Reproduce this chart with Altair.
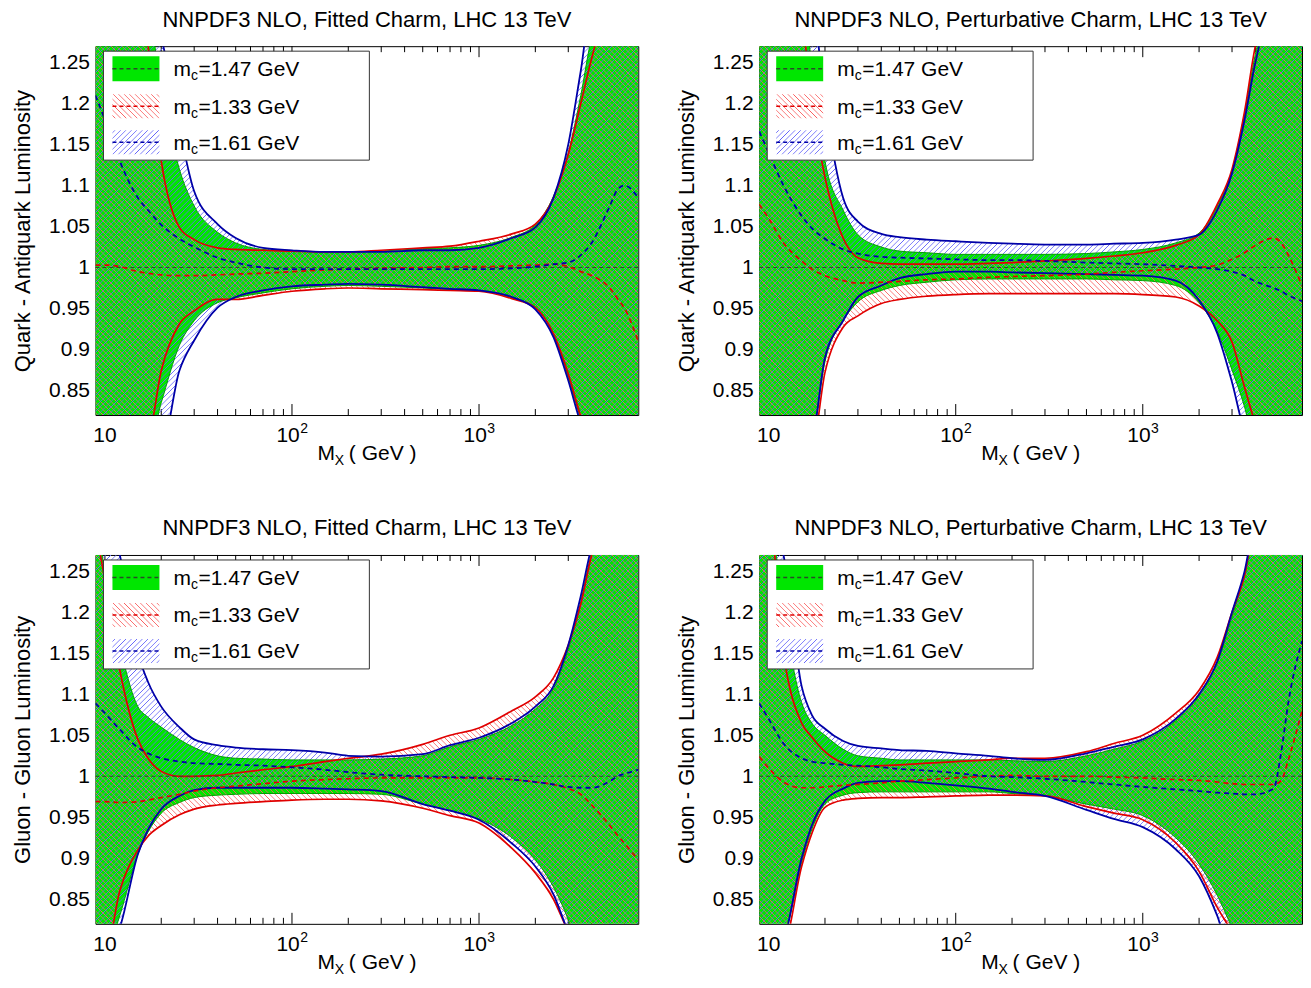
import math
import altair as alt
import pandas as pd

FONT = "Liberation Sans"

# ---------------- data ----------------
MX = [8.9, 10, 12, 15, 17, 20, 25, 30, 40, 50, 70, 100, 150, 200, 300, 500,
      700, 1000, 1500, 2000, 2500, 3000, 3500, 4000, 5000, 5500, 6000, 7100]

# Quark-antiquark, fitted charm
QQF_G_HI = [1.32, 1.32, 1.32, 1.32, 1.31, 1.22, 1.12, 1.075, 1.043, 1.03, 1.022, 1.02, 1.019, 1.019, 1.02, 1.023, 1.024, 1.027, 1.037, 1.052, 1.087, 1.14, 1.21, 1.28, 1.32, 1.32, 1.32, 1.32]
QQF_G_LO = [0.78, 0.78, 0.78, 0.78, 0.78, 0.835, 0.905, 0.935, 0.957, 0.963, 0.969, 0.974, 0.977, 0.978, 0.977, 0.975, 0.973, 0.972, 0.963, 0.951, 0.918, 0.866, 0.815, 0.78, 0.78, 0.78, 0.78, 0.78]
QQF_R_HI = [1.32, 1.32, 1.32, 1.32, 1.27, 1.13, 1.049, 1.034, 1.024, 1.022, 1.021, 1.02, 1.019, 1.019, 1.021, 1.024, 1.026, 1.032, 1.041, 1.053, 1.085, 1.138, 1.2, 1.255, 1.32, 1.32, 1.32, 1.32]
QQF_R_LO = [0.78, 0.78, 0.78, 0.78, 0.79, 0.874, 0.931, 0.947, 0.961, 0.961, 0.966, 0.971, 0.974, 0.975, 0.974, 0.973, 0.972, 0.971, 0.962, 0.951, 0.919, 0.87, 0.818, 0.78, 0.78, 0.78, 0.78, 0.78]
QQF_B_HI = [1.32, 1.32, 1.32, 1.32, 1.32, 1.28, 1.17, 1.093, 1.053, 1.036, 1.024, 1.021, 1.019, 1.019, 1.019, 1.021, 1.021, 1.024, 1.036, 1.049, 1.085, 1.15, 1.24, 1.32, 1.32, 1.32, 1.32, 1.32]
QQF_B_LO = [0.78, 0.78, 0.78, 0.78, 0.78, 0.78, 0.874, 0.911, 0.951, 0.964, 0.972, 0.977, 0.979, 0.98, 0.979, 0.976, 0.974, 0.972, 0.964, 0.949, 0.915, 0.862, 0.81, 0.78, 0.78, 0.78, 0.78, 0.78]
QQF_R_C = [1.003, 1.003, 1.001, 0.995, 0.993, 0.991, 0.99, 0.99, 0.991, 0.992, 0.993, 0.995, 0.997, 0.998, 0.999, 1.0, 1.001, 1.001, 1.002, 1.003, 1.004, 1.001, 0.995, 0.99, 0.975, 0.962, 0.95, 0.91]
QQF_B_C = [1.21, 1.18, 1.13, 1.085, 1.07, 1.052, 1.035, 1.025, 1.012, 1.006, 1.0, 0.998, 0.998, 0.998, 0.998, 0.998, 0.998, 0.998, 0.999, 1.001, 1.004, 1.006, 1.015, 1.03, 1.075, 1.095, 1.1, 1.085]

# Quark-antiquark, perturbative charm
QQP_G_HI = [1.32, 1.32, 1.32, 1.32, 1.25, 1.13, 1.07, 1.04, 1.025, 1.02, 1.018, 1.016, 1.016, 1.016, 1.016, 1.017, 1.019, 1.022, 1.03, 1.042, 1.075, 1.118, 1.188, 1.26, 1.32, 1.32, 1.32, 1.32]
QQP_G_LO = [0.78, 0.78, 0.78, 0.78, 0.79, 0.885, 0.935, 0.958, 0.972, 0.978, 0.982, 0.985, 0.986, 0.986, 0.986, 0.986, 0.985, 0.984, 0.978, 0.957, 0.922, 0.875, 0.83, 0.78, 0.78, 0.78, 0.78, 0.78]
QQP_R_HI = [1.32, 1.32, 1.32, 1.3, 1.2, 1.11, 1.036, 1.012, 1.005, 1.004, 1.004, 1.004, 1.005, 1.006, 1.008, 1.011, 1.014, 1.018, 1.027, 1.04, 1.077, 1.12, 1.19, 1.27, 1.32, 1.32, 1.32, 1.32]
QQP_R_LO = [0.78, 0.78, 0.78, 0.78, 0.78, 0.872, 0.927, 0.941, 0.956, 0.961, 0.965, 0.967, 0.968, 0.968, 0.968, 0.968, 0.968, 0.967, 0.964, 0.953, 0.935, 0.909, 0.854, 0.81, 0.78, 0.78, 0.78, 0.78]
QQP_B_HI = [1.32, 1.32, 1.32, 1.32, 1.32, 1.2, 1.085, 1.056, 1.041, 1.037, 1.034, 1.032, 1.03, 1.029, 1.028, 1.028, 1.029, 1.03, 1.034, 1.04, 1.07, 1.115, 1.18, 1.25, 1.32, 1.32, 1.32, 1.32]
QQP_B_LO = [0.78, 0.78, 0.78, 0.78, 0.79, 0.89, 0.935, 0.964, 0.978, 0.987, 0.992, 0.995, 0.995, 0.994, 0.993, 0.992, 0.991, 0.99, 0.984, 0.96, 0.92, 0.86, 0.8, 0.78, 0.78, 0.78, 0.78, 0.78]
QQP_R_C = [1.077, 1.06, 1.03, 1.008, 0.998, 0.99, 0.984, 0.981, 0.982, 0.983, 0.985, 0.986, 0.988, 0.989, 0.99, 0.992, 0.994, 0.996, 0.998, 1.0, 1.003, 1.01, 1.018, 1.027, 1.036, 1.03, 1.015, 0.978]
QQP_B_C = [1.166, 1.14, 1.1, 1.063, 1.048, 1.035, 1.022, 1.017, 1.013, 1.012, 1.011, 1.01, 1.009, 1.009, 1.008, 1.006, 1.005, 1.004, 1.002, 1.0, 0.998, 0.995, 0.99, 0.983, 0.975, 0.971, 0.966, 0.959]

# Gluon-gluon, fitted charm
GGF_G_HI = [1.32, 1.25, 1.16, 1.085, 1.072, 1.06, 1.045, 1.035, 1.025, 1.022, 1.021, 1.02, 1.02, 1.02, 1.021, 1.025, 1.036, 1.045, 1.062, 1.082, 1.107, 1.155, 1.213, 1.273, 1.32, 1.32, 1.32, 1.32]
GGF_G_LO = [0.78, 0.78, 0.83, 0.905, 0.932, 0.955, 0.968, 0.974, 0.977, 0.978, 0.979, 0.979, 0.979, 0.979, 0.978, 0.966, 0.958, 0.948, 0.925, 0.898, 0.865, 0.825, 0.78, 0.78, 0.78, 0.78, 0.78, 0.78]
GGF_R_HI = [1.3, 1.24, 1.13, 1.045, 1.022, 1.006, 1.0, 1.0, 1.001, 1.004, 1.008, 1.012, 1.018, 1.022, 1.027, 1.039, 1.05, 1.059, 1.08, 1.097, 1.12, 1.16, 1.21, 1.27, 1.32, 1.32, 1.32, 1.32]
GGF_R_LO = [0.78, 0.78, 0.86, 0.91, 0.927, 0.94, 0.953, 0.96, 0.965, 0.967, 0.969, 0.971, 0.972, 0.972, 0.97, 0.961, 0.952, 0.943, 0.912, 0.882, 0.85, 0.81, 0.78, 0.78, 0.78, 0.78, 0.78, 0.78]
GGF_B_HI = [1.32, 1.32, 1.27, 1.15, 1.115, 1.085, 1.06, 1.045, 1.038, 1.035, 1.033, 1.032, 1.029, 1.025, 1.024, 1.027, 1.038, 1.047, 1.065, 1.085, 1.11, 1.16, 1.22, 1.28, 1.32, 1.32, 1.32, 1.32]
GGF_B_LO = [0.78, 0.78, 0.815, 0.905, 0.935, 0.96, 0.976, 0.983, 0.986, 0.986, 0.986, 0.986, 0.985, 0.984, 0.982, 0.966, 0.958, 0.947, 0.918, 0.89, 0.856, 0.81, 0.78, 0.78, 0.78, 0.78, 0.78, 0.78]
GGF_R_C = [0.969, 0.969, 0.968, 0.969, 0.971, 0.974, 0.978, 0.982, 0.986, 0.988, 0.991, 0.994, 0.996, 0.997, 0.998, 0.998, 0.998, 0.998, 0.996, 0.993, 0.99, 0.985, 0.978, 0.965, 0.94, 0.928, 0.918, 0.898]
GGF_B_C = [1.089, 1.077, 1.057, 1.035, 1.028, 1.022, 1.018, 1.016, 1.015, 1.014, 1.013, 1.011, 1.008, 1.005, 1.002, 1.0, 0.999, 0.998, 0.996, 0.993, 0.99, 0.987, 0.986, 0.986, 0.994, 1.0, 1.003, 1.008]

# Gluon-gluon, perturbative charm
GGP_G_HI = [1.32, 1.32, 1.2, 1.09, 1.065, 1.05, 1.033, 1.025, 1.022, 1.02, 1.02, 1.02, 1.02, 1.019, 1.018, 1.025, 1.033, 1.043, 1.068, 1.098, 1.138, 1.195, 1.245, 1.3, 1.32, 1.32, 1.32, 1.32]
GGP_G_LO = [0.78, 0.78, 0.8, 0.895, 0.935, 0.966, 0.977, 0.98, 0.981, 0.981, 0.981, 0.981, 0.981, 0.979, 0.976, 0.966, 0.96, 0.952, 0.925, 0.893, 0.855, 0.815, 0.78, 0.78, 0.78, 0.78, 0.78, 0.78]
GGP_R_HI = [1.32, 1.32, 1.15, 1.065, 1.048, 1.03, 1.016, 1.012, 1.013, 1.014, 1.016, 1.018, 1.02, 1.022, 1.022, 1.03, 1.04, 1.05, 1.077, 1.105, 1.145, 1.2, 1.245, 1.31, 1.32, 1.32, 1.32, 1.32]
GGP_R_LO = [0.78, 0.78, 0.79, 0.89, 0.93, 0.962, 0.971, 0.973, 0.974, 0.974, 0.975, 0.976, 0.977, 0.977, 0.976, 0.963, 0.955, 0.947, 0.919, 0.884, 0.84, 0.81, 0.78, 0.78, 0.78, 0.78, 0.78, 0.78]
GGP_B_HI = [1.32, 1.32, 1.27, 1.11, 1.075, 1.058, 1.043, 1.037, 1.034, 1.032, 1.031, 1.028, 1.025, 1.022, 1.02, 1.028, 1.036, 1.045, 1.07, 1.1, 1.14, 1.2, 1.25, 1.31, 1.32, 1.32, 1.32, 1.32]
GGP_B_LO = [0.78, 0.78, 0.8, 0.9, 0.94, 0.97, 0.985, 0.992, 0.994, 0.994, 0.992, 0.989, 0.985, 0.981, 0.976, 0.959, 0.948, 0.938, 0.911, 0.878, 0.83, 0.78, 0.78, 0.78, 0.78, 0.78, 0.78, 0.78]
GGP_R_C = [1.024, 1.01, 0.993, 0.986, 0.986, 0.987, 0.989, 0.99, 0.992, 0.994, 0.996, 0.998, 1.0, 1.001, 1.0, 1.0, 0.999, 0.998, 0.996, 0.995, 0.993, 0.991, 0.99, 0.99, 0.99, 0.995, 1.02, 1.08]
GGP_B_C = [1.089, 1.07, 1.04, 1.022, 1.018, 1.016, 1.014, 1.013, 1.011, 1.009, 1.007, 1.004, 1.0, 0.999, 0.997, 0.993, 0.99, 0.987, 0.984, 0.982, 0.98, 0.979, 0.978, 0.978, 0.985, 1.03, 1.09, 1.165]

CENTRAL_RATIO = [1.0]
MASSES = ["1.47", "1.33", "1.61"]
TITLES = ["NNPDF3 NLO, Fitted Charm, LHC 13 TeV", "NNPDF3 NLO, Perturbative Charm, LHC 13 TeV"]
YTITLES = ["Quark - Antiquark Luminosity", "Gluon - Gluon Luminosity"]
Y_TICKS = [0.85, 0.9, 0.95, 1.0, 1.05, 1.1, 1.15, 1.2, 1.25]
X_MAJOR = [10, 100, 1000]
X_LABEL_EXP = ["", "2", "3"]
X_MINOR = [20, 30, 40, 50, 60, 70, 80, 90, 200, 300, 400, 500, 600, 700, 800, 900,
           2000, 3000, 4000, 5000, 6000, 7000]

# ---------------- style ----------------
PW, PH = 543, 369
YMIN, YMAX = 0.82, 1.27
GREEN = "#00e600"
GREEN_EDGE = "#00a000"
RED = "#e00000"
NAVY = "#0000a8"
RED_HATCH = (250, 95, 95)
BLUE_HATCH = (100, 100, 250)

xs = alt.Scale(type="log", domain=[8.9, 7100], nice=False)
ys = alt.Scale(domain=[YMIN, YMAX], nice=False, zero=False)


def y_axis(title):
    return alt.Axis(values=Y_TICKS, format="~g", ticks=False, domain=False, grid=False, title=title,
                    titleFontSize=22, titleFont=FONT, titleFontWeight="normal", titleColor="black",
                    labelFontSize=21, labelFont=FONT, labelColor="black", labelPadding=6, titlePadding=14)


def hatch(W, H, rgb, direction, period=3.8, half=0.6):
    a = (W + H) / (W * W + H * H)
    if direction == "back":
        x1, y1, x2, y2 = 0, 1, a * W, 1 - a * H
    else:
        x1, y1, x2, y2 = 0, 0, a * W, a * H
    D = (W + H) / math.sqrt(2)
    n = max(1, round(D / period))
    h = half / D
    r, g, b = rgb
    clear = f"rgba({r},{g},{b},0)"
    solid = f"rgb({r},{g},{b})"
    stops = [alt.GradientStop(offset=0, color=clear)]
    for i in range(n):
        c = (i + 0.5) / n
        stops += [alt.GradientStop(offset=round(c - h, 6), color=clear),
                  alt.GradientStop(offset=round(c, 6), color=solid),
                  alt.GradientStop(offset=round(c + h, 6), color=clear)]
    stops.append(alt.GradientStop(offset=1, color=clear))
    return alt.LinearGradient(gradient="linear", stops=stops, x1=x1, y1=y1, x2=x2, y2=y2)


ONE = pd.DataFrame({"k": [0]})


def panel(series, title, ytitle):
    g_lo, g_hi, r_lo, r_hi, b_lo, b_hi, r_c, b_c = series
    df = pd.DataFrame({"x": MX, "g_lo": g_lo, "g_hi": g_hi, "r_lo": r_lo, "r_hi": r_hi,
                       "b_lo": b_lo, "b_hi": b_hi, "r_c": r_c, "b_c": b_c})
    ya = y_axis(ytitle)
    X = alt.X("x:Q", scale=xs, axis=None)

    def Y(col):
        return alt.Y(f"{col}:Q", scale=ys, axis=ya)

    def band(lo, hi, **mk):
        return alt.Chart(df).mark_area(clip=True, interpolate="monotone", opacity=1, **mk).encode(
            x=X, y=Y(lo), y2=alt.Y2(f"{hi}:Q"))

    def line(col, color, width, dash=None):
        kw = dict(clip=True, interpolate="monotone", color=color, strokeWidth=width)
        if dash:
            kw["strokeDash"] = dash
        return alt.Chart(df).mark_line(**kw).encode(x=X, y=Y(col))

    def bh(lo, hi):
        return (max(hi) - min(lo)) * PH / (YMAX - YMIN)

    layers = []
    # inward ticks (under the bands)
    for vals, ln in ((X_MAJOR, 11), (X_MINOR, 6)):
        tdf = pd.DataFrame({"v": vals})
        layers.append(alt.Chart(tdf).mark_rule(color="black", strokeWidth=1).encode(
            x=alt.X("v:Q", scale=xs, axis=None), y=alt.value(0), y2=alt.value(ln)))
        layers.append(alt.Chart(tdf).mark_rule(color="black", strokeWidth=1).encode(
            x=alt.X("v:Q", scale=xs, axis=None), y=alt.value(PH), y2=alt.value(PH - ln)))

    # x tick labels: 10, 10^2, 10^3
    ldf = pd.DataFrame({"v": X_MAJOR, "e": X_LABEL_EXP})
    lb = PH + 27
    tx = alt.X("v:Q", scale=xs, axis=None)
    layers.append(alt.Chart(ldf).transform_filter("datum.e == ''").mark_text(
        align="center", baseline="alphabetic", fontSize=21, font=FONT, color="black", text="10").encode(
        x=tx, y=alt.value(lb)))
    layers.append(alt.Chart(ldf).transform_filter("datum.e != ''").mark_text(
        align="right", baseline="alphabetic", fontSize=21, font=FONT, color="black", text="10", dx=7.8).encode(
        x=tx, y=alt.value(lb)))
    layers.append(alt.Chart(ldf).transform_filter("datum.e != ''").mark_text(
        align="left", baseline="alphabetic", fontSize=14, font=FONT, color="black", dx=8.3).encode(
        x=tx, y=alt.value(lb - 9), text="e:N"))

    layers.append(band("g_lo", "g_hi", color=GREEN))
    layers.append(band("r_lo", "r_hi", fill=hatch(PW, bh(r_lo, r_hi), RED_HATCH, "back")))
    layers.append(band("b_lo", "b_hi", fill=hatch(PW, bh(b_lo, b_hi), BLUE_HATCH, "fwd")))
    layers.append(line("g_lo", GREEN_EDGE, 1))
    layers.append(line("g_hi", GREEN_EDGE, 1))
    layers.append(line("r_lo", RED, 1.7))
    layers.append(line("r_hi", RED, 1.7))
    layers.append(line("b_lo", NAVY, 1.8))
    layers.append(line("b_hi", NAVY, 1.8))
    layers.append(alt.Chart(pd.DataFrame({"c": CENTRAL_RATIO})).mark_rule(
        color="#2a4a2a", strokeWidth=1, strokeDash=[4, 3]).encode(y=alt.Y("c:Q", scale=ys, axis=ya)))
    layers.append(line("r_c", RED, 1.7, [5, 4]))
    layers.append(line("b_c", NAVY, 1.8, [5, 4]))

    # legend
    one = alt.Chart(ONE)
    layers.append(one.mark_rect(fill="white", stroke="#333333", strokeWidth=1).encode(
        x=alt.value(8), x2=alt.value(274), y=alt.value(5), y2=alt.value(114)))
    rows = [(10, 35, "green"), (48, 72, "red"), (84, 108, "blue")]
    for (t, b, kind), mass in zip(rows, MASSES):
        if kind == "green":
            fill, dcol = GREEN, "#2a4a2a"
        elif kind == "red":
            fill, dcol = hatch(47, b - t, RED_HATCH, "back"), RED
        else:
            fill, dcol = hatch(47, b - t, BLUE_HATCH, "fwd"), NAVY
        layers.append(one.mark_rect(fill=fill).encode(
            x=alt.value(17), x2=alt.value(64), y=alt.value(t), y2=alt.value(b)))
        cy = (t + b) / 2
        layers.append(one.mark_rule(color=dcol, strokeWidth=1.5, strokeDash=[4, 3]).encode(
            x=alt.value(17), x2=alt.value(64), y=alt.value(cy)))
        base = cy + 7.5
        layers.append(one.mark_text(text="m", align="left", baseline="alphabetic", fontSize=21,
                                    font=FONT, color="black").encode(x=alt.value(78), y=alt.value(base)))
        layers.append(one.mark_text(text="c", align="left", baseline="alphabetic", fontSize=14,
                                    font=FONT, color="black").encode(x=alt.value(95.5), y=alt.value(base + 4)))
        layers.append(one.mark_text(text=f"={mass} GeV", align="left", baseline="alphabetic", fontSize=21,
                                    font=FONT, color="black").encode(x=alt.value(103), y=alt.value(base)))

    # x title  M_X ( GeV )
    tb = PH + 45
    cx = PW / 2
    layers.append(one.mark_text(text="M", align="right", baseline="alphabetic", fontSize=21,
                                font=FONT, color="black").encode(x=alt.value(cx - 32), y=alt.value(tb)))
    layers.append(one.mark_text(text="X", align="left", baseline="alphabetic", fontSize=14,
                                font=FONT, color="black").encode(x=alt.value(cx - 32), y=alt.value(tb + 5)))
    layers.append(one.mark_text(text="( GeV )", align="left", baseline="alphabetic", fontSize=21,
                                font=FONT, color="black").encode(x=alt.value(cx - 18), y=alt.value(tb)))

    return alt.layer(*layers).properties(
        width=PW, height=PH,
        title=alt.TitleParams(title, fontSize=22, font=FONT, fontWeight="normal", color="black", offset=14))


p1 = panel([QQF_G_LO, QQF_G_HI, QQF_R_LO, QQF_R_HI, QQF_B_LO, QQF_B_HI, QQF_R_C, QQF_B_C], TITLES[0], YTITLES[0])
p2 = panel([QQP_G_LO, QQP_G_HI, QQP_R_LO, QQP_R_HI, QQP_B_LO, QQP_B_HI, QQP_R_C, QQP_B_C], TITLES[1], YTITLES[0])
p3 = panel([GGF_G_LO, GGF_G_HI, GGF_R_LO, GGF_R_HI, GGF_B_LO, GGF_B_HI, GGF_R_C, GGF_B_C], TITLES[0], YTITLES[1])
p4 = panel([GGP_G_LO, GGP_G_HI, GGP_R_LO, GGP_R_HI, GGP_B_LO, GGP_B_HI, GGP_R_C, GGP_B_C], TITLES[1], YTITLES[1])

chart = alt.concat(p1, p2, p3, p4, columns=2, spacing=alt.RowColnumber(row=140, column=121),
                   bounds="flush").configure_view(stroke="black", strokeWidth=1).properties(
    padding={"left": 2.5, "top": 0, "right": 0, "bottom": 0}, background="white")

chart.save("out.html", embed_options={"renderer": "svg", "actions": False})
